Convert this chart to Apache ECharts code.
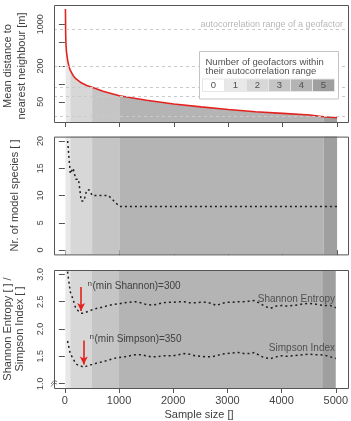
<!DOCTYPE html>
<html>
<head>
<meta charset="utf-8">
<script src="https://cdn.jsdelivr.net/npm/echarts@6/dist/echarts.min.js"></script>
<style>
html, body { margin: 0; padding: 0; background: #fff; }
#chart { width: 351px; height: 421px; }
</style>
</head>
<body>
<div id="chart"></div>
<script>
// top panel: mean distance to nearest neighbour [m] by sample size
var distN = [10, 15, 20, 30, 50, 75, 100, 150, 200, 300, 400, 500, 700, 1000, 1500, 2000, 2500, 3000, 3500, 4000, 4500, 4750, 5000];
var distM = [1800, 650, 460, 340, 250, 195, 168, 138, 122, 104, 94, 88, 75, 63, 53, 46, 41, 37, 34, 32, 30, 28, 27];
// autocorrelation ranges of the geofactors (dashed lines)
var acRange = [810, 200, 88, 61, 28];
// sample sizes where the number of geofactors changes
var levelBreaks = [10, 100, 500, 1000, 4750, 5000];
var levelNames = ['0', '1', '2', '3', '4', '5'];
var levelColors = ['#ffffff', '#e8e8e8', '#d7d7d7', '#c5c5c5', '#b4b4b4', '#9f9f9f'];

// middle + bottom panels
var sizeN = [50, 100, 150, 200, 250, 300, 350, 400, 450, 500,
    600, 700, 800, 900, 1000, 1100, 1200, 1300, 1400, 1500,
    1600, 1700, 1800, 1900, 2000, 2100, 2200, 2300, 2400, 2500,
    2600, 2700, 2800, 2900, 3000, 3100, 3200, 3300, 3400, 3500,
    3600, 3700, 3800, 3900, 4000, 4100, 4200, 4300, 4400, 4500,
    4600, 4700, 4800, 4900, 5000];
var species = [20, 14, 15, 13, 13, 9, 9, 11, 11, 10,
    10, 10, 10, 9, 8, 8, 8, 8, 8, 8,
    8, 8, 8, 8, 8, 8, 8, 8, 8, 8,
    8, 8, 8, 8, 8, 8, 8, 8, 8, 8,
    8, 8, 8, 8, 8, 8, 8, 8, 8, 8,
    8, 8, 8, 8, 8];
var shannon = [3.05, 2.68, 2.55, 2.38, 2.33, 2.29, 2.29, 2.31, 2.33, 2.35,
    2.38, 2.40, 2.43, 2.45, 2.46, 2.48, 2.49, 2.50, 2.48, 2.45,
    2.44, 2.45, 2.48, 2.49, 2.49, 2.50, 2.50, 2.48, 2.48, 2.49,
    2.49, 2.47, 2.43, 2.47, 2.49, 2.49, 2.50, 2.50, 2.51, 2.52,
    2.47, 2.41, 2.38, 2.42, 2.43, 2.42, 2.43, 2.44, 2.46, 2.47,
    2.46, 2.44, 2.43, 2.43, 2.39];
var simpson = [1.78, 1.55, 1.46, 1.37, 1.33, 1.32, 1.30, 1.32, 1.34, 1.35,
    1.38, 1.40, 1.43, 1.46, 1.48, 1.49, 1.51, 1.53, 1.53, 1.51,
    1.49, 1.49, 1.51, 1.51, 1.51, 1.53, 1.55, 1.54, 1.51, 1.50,
    1.49, 1.49, 1.51, 1.54, 1.55, 1.56, 1.57, 1.55, 1.55, 1.57,
    1.51, 1.47, 1.46, 1.49, 1.51, 1.50, 1.51, 1.52, 1.53, 1.54,
    1.53, 1.53, 1.52, 1.49, 1.46];
var minShannonN = 300;
var minSimpsonN = 350;

var xTicks = [0, 1000, 2000, 3000, 4000, 5000];
var distTicks = [50, 100, 200, 500, 1000];
var distLabels = [50, 200, 1000];
var speciesTicks = [0, 5, 10, 15, 20];
var indexTicks = [1.0, 1.5, 2.0, 2.5, 3.0];

var FONT = 'Liberation Sans, Arial, sans-serif';
var grids = [
    {left: 54, top: 5, width: 294, height: 117},
    {left: 54, top: 136.6, width: 294, height: 117.8},
    {left: 54, top: 270, width: 294, height: 118}
];

function lg(v) { return Math.log10(v); }
function pairs(xs, ys, f) {
    var out = [];
    for (var i = 0; i < xs.length; i++) out.push([xs[i], f ? f(ys[i]) : ys[i]]);
    return out;
}

var distData = pairs(distN, distM, lg);
var speciesData = pairs(sizeN, species);
var shannonData = pairs(sizeN, shannon);
var simpsonData = pairs(sizeN, simpson);

function xAxisFor(i, showLabels) {
    return {
        type: 'value', gridIndex: i, min: -200, max: 5200,
        axisLine: {show: false},
        splitLine: {show: false},
        axisTick: {show: true, length: 5, customValues: xTicks, lineStyle: {color: '#555'}},
        axisLabel: {show: showLabels, customValues: xTicks, fontSize: 11, color: '#444', margin: 7, fontFamily: FONT,
            formatter: function (v) { return String(v); }}
    };
}
function yAxisFor(i, min, max, ticks, labels, fmt) {
    return {
        type: 'value', gridIndex: i, min: min, max: max,
        axisLine: {show: false},
        splitLine: {show: false},
        axisTick: {show: true, length: 6, customValues: ticks, lineStyle: {color: '#555'}},
        axisLabel: {customValues: labels, rotate: 90, fontSize: 9, color: '#444', margin: 9, fontFamily: FONT, formatter: fmt}
    };
}

// shaded area under the distance curve, one series per level
var shadeSeries = [];
for (var k = 1; k < levelBreaks.length; k++) {
    var a = levelBreaks[k - 1], b = levelBreaks[k];
    shadeSeries.push({
        type: 'line', xAxisIndex: 0, yAxisIndex: 0, z: 2,
        data: distData.filter(function (p) { return p[0] >= a && p[0] <= b; }),
        symbol: 'none', silent: true,
        lineStyle: {width: 0},
        areaStyle: {color: levelColors[k], opacity: 1, origin: 'start'}
    });
}

var bandAreas = [];
for (var j = 1; j < levelBreaks.length; j++) {
    bandAreas.push([{xAxis: levelBreaks[j - 1], itemStyle: {color: levelColors[j], opacity: 1}}, {xAxis: levelBreaks[j]}]);
}

var dotted = {color: '#1e1e1e', width: 1.5, type: [2, 3]};
var arrowLine = function (n, y0, y1) {
    return {
        silent: true, symbol: ['none', 'arrow'], symbolSize: [6, 8],
        label: {show: false},
        lineStyle: {color: '#e3231f', width: 1.6, type: 'solid'},
        data: [[{coord: [n, y0]}, {coord: [n, y1]}]]
    };
};

var series = [
    {
        type: 'line', xAxisIndex: 0, yAxisIndex: 0, z: 1, data: distData, symbol: 'none', silent: true,
        lineStyle: {opacity: 0},
        markLine: {
            silent: true, symbol: ['none', 'none'], label: {show: false},
            lineStyle: {color: '#cacaca', type: [3, 3], width: 1},
            data: acRange.map(function (v) { return {yAxis: lg(v)}; })
        }
    }
].concat(shadeSeries).concat([
    {type: 'line', xAxisIndex: 0, yAxisIndex: 0, z: 3, data: distData, symbol: 'none',
        lineStyle: {color: '#e3231f', width: 1.6}},
    {type: 'line', xAxisIndex: 1, yAxisIndex: 1, z: 1, data: speciesData, symbol: 'none', silent: true,
        lineStyle: {opacity: 0}, markArea: {silent: true, data: bandAreas}},
    {type: 'line', xAxisIndex: 1, yAxisIndex: 1, z: 3, data: speciesData, symbol: 'none', lineStyle: dotted},
    {type: 'line', xAxisIndex: 2, yAxisIndex: 2, z: 1, data: shannonData, symbol: 'none', silent: true,
        lineStyle: {opacity: 0}, markArea: {silent: true, data: bandAreas}},
    {type: 'line', xAxisIndex: 2, yAxisIndex: 2, z: 3, data: shannonData, symbol: 'none', lineStyle: dotted,
        markLine: arrowLine(minShannonN, 2.77, 2.33)},
    {type: 'line', xAxisIndex: 2, yAxisIndex: 2, z: 3, data: simpsonData, symbol: 'none', lineStyle: dotted,
        markLine: arrowLine(minSimpsonN, 1.79, 1.35)}
]);

// boxes, legend and annotations
var graphic = [];
grids.forEach(function (g) {
    graphic.push({type: 'rect', z: 50, silent: true,
        shape: {x: g.left + 0.5, y: g.top + 0.5, width: g.width, height: g.height},
        style: {fill: 'none', stroke: '#555', lineWidth: 1}});
});
function txt(x, y, s, size, color, align, rot) {
    return {type: 'text', x: x, y: y, rotation: rot || 0, z: 60, silent: true,
        style: {text: s, font: size + 'px ' + FONT, fill: color, align: align || 'left', verticalAlign: 'middle'}};
}
graphic.push(txt(343, 24.5, 'autocorrelation range of a geofactor', 9, '#b8b8b8', 'right'));
graphic.push({type: 'rect', z: 55, silent: true, shape: {x: 199.5, y: 51.5, width: 139, height: 47.5},
    style: {fill: '#fff', stroke: '#c4c4c4', lineWidth: 1}});
graphic.push(txt(205.5, 62, 'Number of geofactors within', 9.5, '#505050'));
graphic.push(txt(205.5, 71.5, 'their autocorrelation range', 9.5, '#505050'));
for (var c = 0; c < levelNames.length; c++) {
    graphic.push({type: 'rect', z: 56, silent: true, shape: {x: 202.5 + c * 22, y: 79, width: 22, height: 12.5},
        style: {fill: levelColors[c], stroke: '#e6e6e6', lineWidth: 1}});
    graphic.push(txt(213.5 + c * 22, 85.5, levelNames[c], 9.5, '#505050', 'center'));
}
// axis break mark on the lower y axis
graphic.push({type: 'polyline', z: 61, silent: true, shape: {points: [[51, 384], [54, 380.5], [57, 381.5]]},
    style: {fill: 'none', stroke: '#555', lineWidth: 0.8}});
graphic.push({type: 'polyline', z: 61, silent: true, shape: {points: [[51, 386.5], [54, 383], [57, 384]]},
    style: {fill: 'none', stroke: '#555', lineWidth: 0.8}});
// axis titles
var R = Math.PI / 2;
graphic.push(txt(8, 66, 'Mean distance to', 11, '#404040', 'center', R));
graphic.push(txt(22, 66, 'nearest neighbour [m]', 11, '#404040', 'center', R));
graphic.push(txt(15, 195.5, 'Nr. of model species [ ]', 11, '#404040', 'center', R));
graphic.push(txt(8, 329, 'Shannon Entropy [ ] /', 11, '#404040', 'center', R));
graphic.push(txt(20, 329, 'Simpson Index [ ]', 11, '#404040', 'center', R));
graphic.push(txt(199, 415, 'Sample size []', 11, '#404040', 'center'));
// panel 3 annotations
graphic.push(txt(87.5, 283.5, 'n', 8, '#404040'));
graphic.push(txt(92.5, 286, '(min Shannon)=300', 10, '#404040'));
graphic.push(txt(89.5, 337, 'n', 8, '#404040'));
graphic.push(txt(94.5, 339.5, '(min Simpson)=350', 10, '#404040'));
graphic.push(txt(335, 299, 'Shannon Entropy', 10, '#505050', 'right'));
graphic.push(txt(335, 348, 'Simpson Index', 10, '#505050', 'right'));

var chart = echarts.init(document.getElementById('chart'), null, {renderer: 'canvas'});
chart.setOption({
    animation: false,
    backgroundColor: '#fff',
    textStyle: {fontFamily: FONT},
    grid: grids,
    xAxis: [xAxisFor(0, false), xAxisFor(1, false), xAxisFor(2, true)],
    yAxis: [
        yAxisFor(0, lg(22.9), lg(2100), distTicks.map(lg), distLabels.map(lg), function (v) { return String(Math.round(Math.pow(10, v))); }),
        yAxisFor(1, -0.8, 20.8, speciesTicks, speciesTicks),
        yAxisFor(2, 0.92, 3.08, indexTicks, indexTicks, function (v) { return v.toFixed(1); })
    ],
    series: series,
    graphic: graphic
});
</script>
</body>
</html>
